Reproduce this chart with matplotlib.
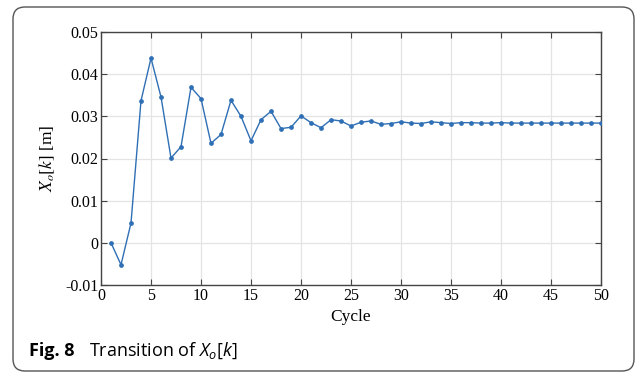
import numpy as np
import matplotlib
matplotlib.use("Agg")
import matplotlib.pyplot as plt
from matplotlib.patches import FancyBboxPatch
from matplotlib.transforms import IdentityTransform

# cycle index and X_o[k] values
cycle = list(range(1, 51))
x_o = [0.0000, -0.0052, 0.0047, 0.0337, 0.0438, 0.0346, 0.0201, 0.0228, 0.0369, 0.0342,
       0.0236, 0.0257, 0.0338, 0.0300, 0.0242, 0.0292, 0.0312, 0.0271, 0.0274, 0.0301,
       0.0285, 0.0273, 0.0292, 0.0289, 0.0277, 0.0286, 0.0289, 0.0281, 0.0283, 0.0287,
       0.0284, 0.0283, 0.0287, 0.0285, 0.0283, 0.0285, 0.0285, 0.0284, 0.0284, 0.0285,
       0.0284, 0.0284, 0.0284, 0.0284, 0.0284, 0.0284, 0.0284, 0.0284, 0.0284, 0.0284]

x_ticks = list(range(0, 51, 5))
x_ticklabels = [str(v) for v in x_ticks]
y_ticks = [-0.01, 0, 0.01, 0.02, 0.03, 0.04, 0.05]
y_ticklabels = ["-0.01", "0", "0.01", "0.02", "0.03", "0.04", "0.05"]

C_LINE = "#2f6fb5"
C_SPINE = "#444444"
SERIF = "Liberation Serif"
CAP = "Open Sans"

plt.rcParams["font.family"] = SERIF
plt.rcParams["mathtext.fontset"] = "stix"
plt.rcParams["mathtext.rm"] = CAP
plt.rcParams["mathtext.it"] = CAP + ":italic"

W, H = 637, 374
fig = plt.figure(figsize=(W / 100, H / 100), dpi=100)
ax = fig.add_axes([101 / W, 1 - 285 / H, 500 / W, 253 / H])

ax.plot(cycle, x_o, color=C_LINE, lw=1.0, marker="o", ms=2.4, zorder=3)

ax.set_xlim(0, 50)
ax.set_ylim(-0.01, 0.05)
ax.set_xticks(x_ticks)
ax.set_xticklabels(x_ticklabels, fontfamily=SERIF, fontsize=11.5)
ax.set_yticks(y_ticks)
ax.set_yticklabels(y_ticklabels, fontfamily=SERIF, fontsize=11.5)
ax.tick_params(direction="in", top=True, right=True, length=4, width=0.8,
               color=C_SPINE, pad=2)
ax.grid(True, color="#e4e4e4", lw=0.9)
ax.set_axisbelow(True)
for s in ax.spines.values():
    s.set_color(C_SPINE)
    s.set_linewidth(1.0)

ax.set_xlabel("Cycle", fontsize=12.5, labelpad=4)
ax.set_ylabel(r"$X_o[k]$ [m]", fontsize=12.5, labelpad=6)

# caption and rounded frame
fig.text(29 / W, (H - 356) / H, "Fig. 8", fontsize=13, fontweight="bold",
         family=CAP, va="baseline")
fig.text(89 / W, (H - 356) / H, r"Transition of $X_o[k]$", fontsize=13,
         family=CAP, va="baseline", math_fontfamily="custom")

frame = FancyBboxPatch((13, 3), 621, 364, boxstyle="round,pad=0,rounding_size=12",
                       transform=IdentityTransform(), fill=False,
                       edgecolor="#555555", lw=1.0)
fig.patches.append(frame)

fig.savefig("out.png", dpi=100)
plt.close(fig)
